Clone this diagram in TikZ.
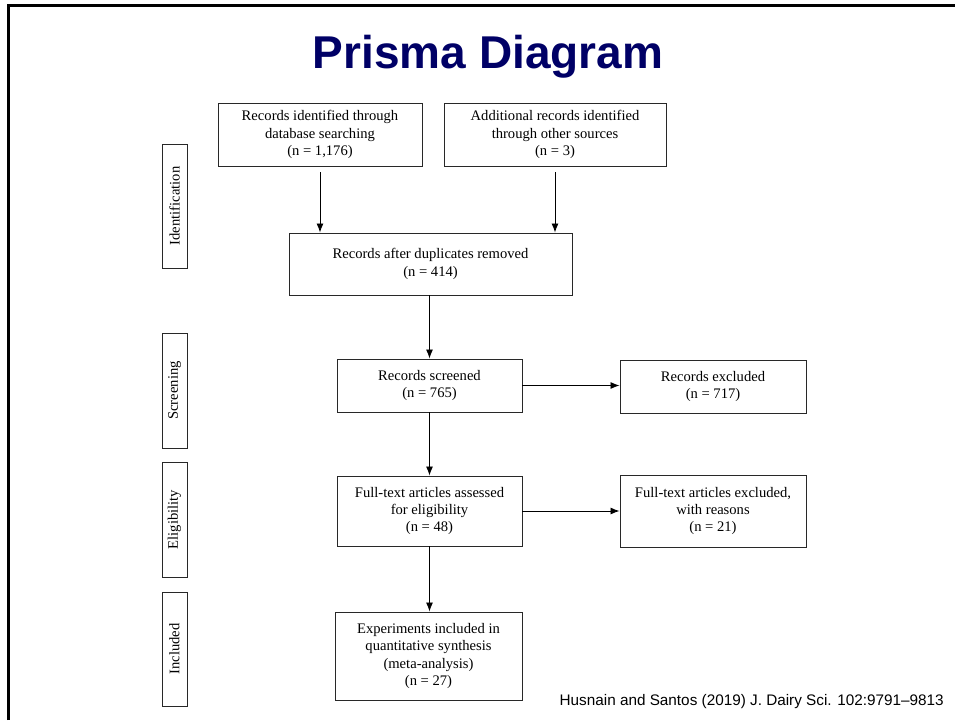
\documentclass[tikz,border=0pt]{standalone}
\usepackage{fontspec}
\setmainfont{Liberation Serif}
\newfontfamily\titlefont{Liberation Sans}
\usetikzlibrary{arrows.meta}
\definecolor{titleblue}{RGB}{0,0,102}
\definecolor{boxline}{RGB}{40,40,40}
\tikzset{
  flowbox/.style={draw=boxline, line width=0.95pt, inner sep=0pt, align=center,
    font=\fontsize{14.6}{17.2}\selectfont},
  phasebox/.style={draw=boxline, line width=0.95pt, inner sep=0pt, align=center,
    rotate=90, minimum height=25pt, font=\fontsize{14.6}{17.2}\selectfont},
  flowarrow/.style={-{Latex[length=9pt,width=7pt]}, line width=0.9pt}
}
\begin{document}
\begin{tikzpicture}[x=1pt,y=-1pt]
\useasboundingbox (0,0) rectangle (955,720);
% frame
\draw[line width=3pt, line join=miter] (8.5,720) -- (8.5,5.5) -- (955,5.5);
% title
\node[font=\titlefont\bfseries\fontsize{46}{50}\selectfont, text=titleblue, anchor=base] (title) at (488,68) {Prisma Diagram};
% phase labels
\node[phasebox, minimum width=124pt] (ident) at (174.5,206) {Identification};
\node[phasebox, minimum width=115pt] (screen) at (174.5,390.5) {Screening};
\node[phasebox, minimum width=115pt] (elig) at (174.5,519.5) {Eligibility};
\node[phasebox, minimum width=114pt] (incl) at (174.5,649) {Included};
% boxes
\node[flowbox, minimum width=204pt, minimum height=63pt] (A) at (320,134.5) {Records identified through\\database searching\\(n = 1,176)};
\node[flowbox, minimum width=222pt, minimum height=63pt] (B) at (555,134.5) {Additional records identified\\through other sources\\(n = 3)};
\node[flowbox, minimum width=283pt, minimum height=62pt] (C) at (430.5,264) {Records after duplicates removed\\(n = 414)};
\node[flowbox, minimum width=185pt, minimum height=53pt] (D) at (429.5,385.5) {Records screened\\(n = 765)};
\node[flowbox, minimum width=186pt, minimum height=53pt] (E) at (713,386.5) {Records excluded\\(n = 717)};
\node[flowbox, minimum width=185pt, minimum height=70pt] (F) at (429.5,511) {Full-text articles assessed\\for eligibility\\(n = 48)};
\node[flowbox, minimum width=186pt, minimum height=72pt] (G) at (713,511) {Full-text articles excluded,\\with reasons\\(n = 21)};
\node[flowbox, minimum width=187pt, minimum height=88pt] (H) at (428.5,656) {Experiments included in\\quantitative synthesis\\(meta-analysis)\\(n = 27)};
% arrows
\draw[flowarrow, shorten <=6pt] (A.south) -- (A.south |- C.north);
\draw[flowarrow, shorten <=6pt] (B.south) -- (B.south |- C.north);
\draw[flowarrow] (C.south -| D.north) -- (D.north);
\draw[flowarrow] (D.east) -- (D.east -| E.west);
\draw[flowarrow] (D.south) -- (F.north);
\draw[flowarrow] (F.east) -- (F.east -| G.west);
\draw[flowarrow] (F.south) -- (F.south |- H.north);
% citation
\node[font=\titlefont\fontsize{15.3}{18}\selectfont, anchor=base east, inner sep=0pt] (cite) at (944,705) {Husnain and Santos (2019) J. Dairy Sci. 102:9791\textendash 9813};
\end{tikzpicture}
\end{document}
